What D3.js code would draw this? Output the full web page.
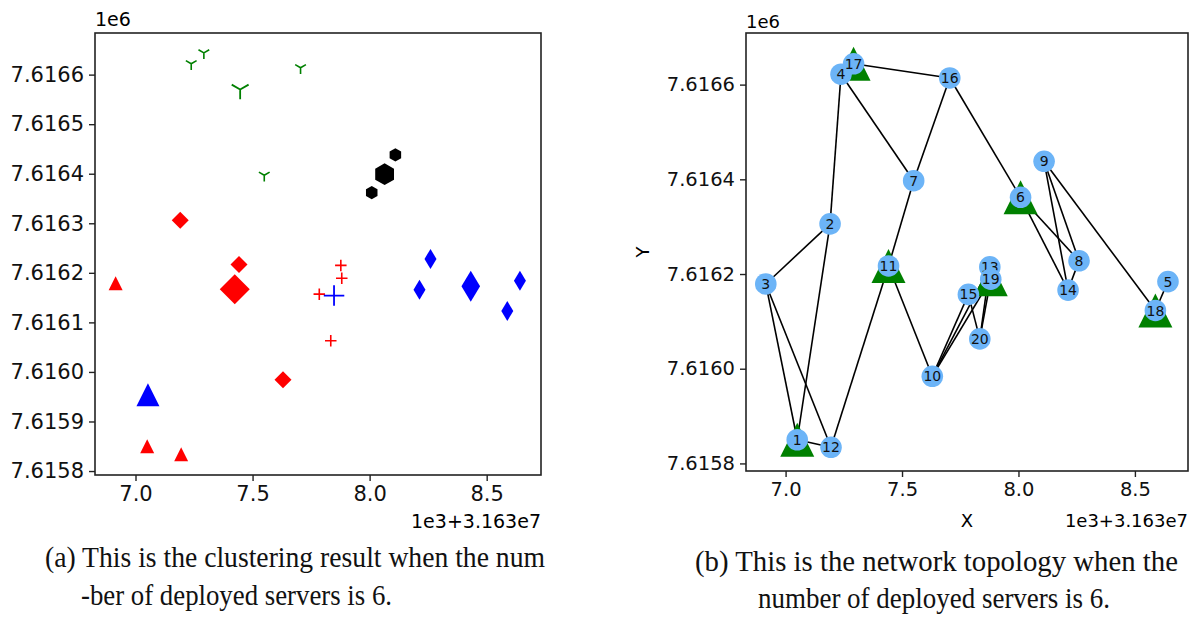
<!DOCTYPE html>
<html><head><meta charset="utf-8">
<script src="https://cdn.jsdelivr.net/npm/d3@7"></script>
<style>body{margin:0;background:#fff}svg{display:block}</style>
</head><body>
<svg id="c" width="1200" height="627"></svg>
<script>
// ---------- data ----------
const nodeIds = [1,2,3,4,5,6,7,8,9,10,11,12,13,14,15,16,17,18,19,20];
const nodeX = [7.050,7.191,6.915,7.238,8.642,8.009,7.550,8.260,8.110,7.630,7.442,7.195,7.877,8.213,7.785,7.705,7.292,8.588,7.881,7.834];
const nodeY = [7.615850,7.616306,7.616179,7.616622,7.616184,7.616362,7.616397,7.616228,7.616438,7.615984,7.616217,7.615834,7.616215,7.616166,7.616157,7.616614,7.616644,7.616123,7.616189,7.616063];
const servers = [1,6,11,17,18,19];
const edges = [[17,16],[4,2],[4,7],[16,7],[16,6],[7,11],[3,2],[2,1],[3,1],[3,12],[1,12],[12,11],[11,10],[10,15],[10,13],[10,19],[15,20],[20,19],[20,13],[6,14],[6,8],[9,14],[9,8],[8,14],[9,18],[18,5]];
const clusterMembers = [[1,3,12],[2,10,11],[4,7,16,17],[6,9],[13,15,19,20],[5,8,14,18]];
const clusterMarker = ['^','D','1','h','+','d'];
const memberColor = ['#ff0000','#ff0000','#008000','#000000','#ff0000','#0000ff'];
const centroidColor = ['#0000ff','#ff0000','#008000','#000000','#0000ff','#0000ff'];
const centroidX = [7.053,7.424,7.447,8.064,7.848,8.432];
const centroidY = [7.615954,7.616167,7.616570,7.616399,7.616154,7.616173];
const xTicks = [7.0,7.5,8.0,8.5];
const yTicksLeft = [7.6158,7.6159,7.6160,7.6161,7.6162,7.6163,7.6164,7.6165,7.6166];
const yTicksRight = [7.6158,7.6160,7.6162,7.6164,7.6166];
const captionA = ["(a) This is the clustering result when the num","-ber of deployed servers is 6."];
const captionB = ["(b) This is the network topology when the","number of deployed servers is 6."];

// ---------- layout ----------
const svg = d3.select('#c');
const FONT = 'DejaVu Sans, sans-serif';
const L = {x0:95, x1:541, y0:33, y1:475, xd:[6.827,8.732], yd:[7.615792,7.616684], fs:21, ofs:19};
const R = {x0:746, x1:1188, y0:33, y1:471, xd:[6.830,8.728], yd:[7.615784,7.616709], fs:19.5, ofs:18};

function panel(P, yTicks){
  const x = d3.scaleLinear().domain(P.xd).range([P.x0,P.x1]);
  const y = d3.scaleLinear().domain(P.yd).range([P.y1,P.y0]);
  const g = svg.append('g');
  const ax = g.append('g').attr('transform',`translate(0,${P.y1})`)
    .call(d3.axisBottom(x).tickValues(xTicks).tickFormat(d3.format('.1f')).tickSize(6).tickPadding(5));
  const ay = g.append('g').attr('transform',`translate(${P.x0},0)`)
    .call(d3.axisLeft(y).tickValues(yTicks).tickFormat(d3.format('.4f')).tickSize(6).tickPadding(5));
  [ax,ay].forEach(a=>{
    a.select('.domain').remove();
    a.selectAll('line').attr('stroke','#222').attr('stroke-width',1.4);
    a.selectAll('text').attr('font-family',FONT).attr('font-size',P.fs).attr('fill','#111');
  });
  return {g,x,y};
}
function frame(P){
  svg.append('rect').attr('x',P.x0).attr('y',P.y0).attr('width',P.x1-P.x0).attr('height',P.y1-P.y0)
    .attr('fill','none').attr('stroke','#222').attr('stroke-width',1.6);
}
function markerPath(m, s){
  const h = s/2;
  switch(m){
    case '^': return `M0,${-h}L${h},${h}L${-h},${h}Z`;
    case 'D': return `M0,${-h}L${h},0L0,${h}L${-h},0Z`;
    case 'd': return `M0,${-h}L${0.3*s},0L0,${h}L${-0.3*s},0Z`;
    case '+': return `M${-h},0H${h}M0,${-h}V${h}`;
    case '1': { const r=h; return `M0,0V${r}M0,0L${-0.866*r},${-0.5*r}M0,0L${0.866*r},${-0.5*r}`; }
    case 'h': { let p=''; for(let k=0;k<6;k++){const a=(-90+60*k)*Math.PI/180; p+=(k?'L':'M')+(h*Math.cos(a)).toFixed(2)+','+(h*Math.sin(a)).toFixed(2);} return p+'Z'; }
  }
}
const smallSize = {'^':14,'D':17,'d':20,'+':11.5,'1':12.4,'h':13.3};
const bigSize   = {'^':23,'D':30,'d':31,'+':20.5,'1':19.5,'h':21.7};
const strokeOnly = {'+':true,'1':true};

// ---------- left panel ----------
const A = panel(L, yTicksLeft);
const idx = id => nodeIds.indexOf(id);
clusterMembers.forEach((mem,ci)=>{
  const m = clusterMarker[ci];
  mem.forEach(id=>{
    const i = idx(id);
    A.g.append('path').attr('d',markerPath(m,smallSize[m]))
      .attr('transform',`translate(${A.x(nodeX[i])},${A.y(nodeY[i])})`)
      .attr('fill',strokeOnly[m]?'none':memberColor[ci])
      .attr('stroke',strokeOnly[m]?memberColor[ci]:'none').attr('stroke-width',1.6);
  });
  A.g.append('path').attr('d',markerPath(m,bigSize[m]))
    .attr('transform',`translate(${A.x(centroidX[ci])},${A.y(centroidY[ci])})`)
    .attr('fill',strokeOnly[m]?'none':centroidColor[ci])
    .attr('stroke',strokeOnly[m]?centroidColor[ci]:'none').attr('stroke-width',1.8);
});
frame(L);
svg.append('text').attr('x',L.x0).attr('y',26).attr('font-family',FONT).attr('font-size',L.ofs).text('1e6');
svg.append('text').attr('x',L.x1).attr('y',528).attr('text-anchor','end').attr('font-family',FONT).attr('font-size',L.ofs).text('1e3+3.163e7');

// ---------- right panel ----------
const B = panel(R, yTicksRight);
B.g.append('g').selectAll('line').data(edges).join('line')
  .attr('x1',e=>B.x(nodeX[idx(e[0])])).attr('y1',e=>B.y(nodeY[idx(e[0])]))
  .attr('x2',e=>B.x(nodeX[idx(e[1])])).attr('y2',e=>B.y(nodeY[idx(e[1])]))
  .attr('stroke','#000').attr('stroke-width',1.6);
B.g.append('g').selectAll('path').data(servers).join('path')
  .attr('d',markerPath('^',34))
  .attr('transform',d=>`translate(${B.x(nodeX[idx(d)])},${B.y(nodeY[idx(d)])})`)
  .attr('fill','#008000');
const ng = B.g.append('g').selectAll('g').data(nodeIds).join('g')
  .attr('transform',(d,i)=>`translate(${B.x(nodeX[i])},${B.y(nodeY[i])})`);
ng.append('circle').attr('r',10.8).attr('fill','#6cb4f7');
ng.append('text').attr('text-anchor','middle').attr('dy','0.36em')
  .attr('font-family',FONT).attr('font-size',14).attr('fill','#111').text(d=>d);
frame(R);
svg.append('text').attr('x',R.x0).attr('y',28).attr('font-family',FONT).attr('font-size',R.ofs).text('1e6');
svg.append('text').attr('x',R.x1).attr('y',527).attr('text-anchor','end').attr('font-family',FONT).attr('font-size',R.ofs).text('1e3+3.163e7');
svg.append('text').attr('x',(R.x0+R.x1)/2).attr('y',527).attr('text-anchor','middle').attr('font-family',FONT).attr('font-size',R.ofs).text('X');
svg.append('text').attr('transform',`translate(649,${(R.y0+R.y1)/2}) rotate(-90)`).attr('text-anchor','middle').attr('font-family',FONT).attr('font-size',R.ofs).text('Y');

// ---------- captions ----------
const CAP = 'Liberation Serif, Times New Roman, serif';
const capLines = [
  {t:captionA[0], x:45, y:567, w:500},
  {t:captionA[1], x:81, y:605, w:311},
  {t:captionB[0], x:695, y:571, w:483},
  {t:captionB[1], x:758, y:608, w:352}
];
svg.append('g').selectAll('text').data(capLines).join('text')
  .attr('x',d=>d.x).attr('y',d=>d.y).attr('font-family',CAP).attr('font-size',29)
  .attr('textLength',d=>d.w).attr('lengthAdjust','spacingAndGlyphs').attr('fill','#111').text(d=>d.t);
</script>
</body></html>
